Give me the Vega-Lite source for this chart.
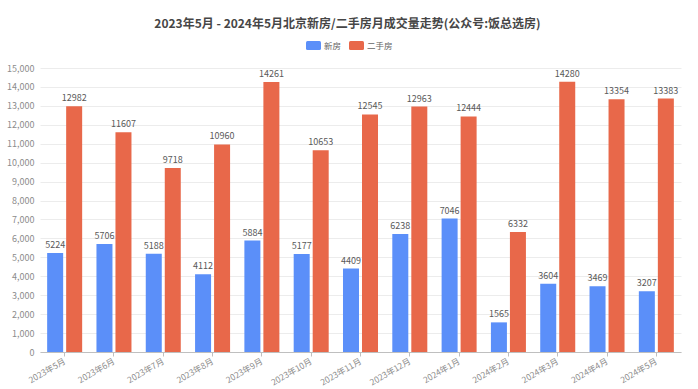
{
  "$schema": "https://vega.github.io/schema/vega-lite/v6.json",
  "width": 641,
  "height": 284,
  "autosize": "none",
  "padding": {"left": 40, "top": 68, "right": 17, "bottom": 37},
  "background": "white",
  "title": {
    "text": "2023年5月 - 2024年5月北京新房/二手房月成交量走势(公众号:饭总选房)",
    "font": "Noto Sans CJK SC",
    "fontSize": 12,
    "fontWeight": "bold",
    "color": "#464646",
    "anchor": "middle",
    "offset": 7,
    "frame": "group",
    "dx": -13
  },
  "config": {
    "view": {"stroke": null},
    "font": "Noto Sans CJK SC"
  },
  "data": {
    "values": [
      {"month": "2023年5月", "type": "新房", "value": 5224},
      {"month": "2023年6月", "type": "新房", "value": 5706},
      {"month": "2023年7月", "type": "新房", "value": 5188},
      {"month": "2023年8月", "type": "新房", "value": 4112},
      {"month": "2023年9月", "type": "新房", "value": 5884},
      {"month": "2023年10月", "type": "新房", "value": 5177},
      {"month": "2023年11月", "type": "新房", "value": 4409},
      {"month": "2023年12月", "type": "新房", "value": 6238},
      {"month": "2024年1月", "type": "新房", "value": 7046},
      {"month": "2024年2月", "type": "新房", "value": 1565},
      {"month": "2024年3月", "type": "新房", "value": 3604},
      {"month": "2024年4月", "type": "新房", "value": 3469},
      {"month": "2024年5月", "type": "新房", "value": 3207},
      {"month": "2023年5月", "type": "二手房", "value": 12982},
      {"month": "2023年6月", "type": "二手房", "value": 11607},
      {"month": "2023年7月", "type": "二手房", "value": 9718},
      {"month": "2023年8月", "type": "二手房", "value": 10960},
      {"month": "2023年9月", "type": "二手房", "value": 14261},
      {"month": "2023年10月", "type": "二手房", "value": 10653},
      {"month": "2023年11月", "type": "二手房", "value": 12545},
      {"month": "2023年12月", "type": "二手房", "value": 12963},
      {"month": "2024年1月", "type": "二手房", "value": 12444},
      {"month": "2024年2月", "type": "二手房", "value": 6332},
      {"month": "2024年3月", "type": "二手房", "value": 14280},
      {"month": "2024年4月", "type": "二手房", "value": 13354},
      {"month": "2024年5月", "type": "二手房", "value": 13383}
    ]
  },
  "encoding": {
    "x": {
      "field": "month",
      "type": "nominal",
      "sort": null,
      "scale": {"paddingInner": 0.29, "paddingOuter": 0.145},
      "axis": {
        "title": null,
        "labelAngle": -30,
        "labelAlign": "right",
        "labelBaseline": "middle",
        "labelFontSize": 8.5,
        "labelColor": "#8c8c8c",
        "labelPadding": 4,
        "domainColor": "#bfbfbf",
        "tickColor": "#bfbfbf",
        "tickSize": 4,
        "grid": false
      }
    },
    "xOffset": {
      "field": "type",
      "type": "nominal",
      "sort": ["新房", "二手房"],
      "scale": {"paddingInner": 0.158}
    },
    "y": {
      "field": "value",
      "type": "quantitative",
      "scale": {"domain": [0, 15000], "nice": false},
      "axis": {
        "title": null,
        "values": [0, 1000, 2000, 3000, 4000, 5000, 6000, 7000, 8000, 9000, 10000, 11000, 12000, 13000, 14000, 15000],
        "format": ",d",
        "labelFontSize": 9,
        "labelColor": "#8c8c8c",
        "labelPadding": 6,
        "domain": false,
        "ticks": false,
        "gridColor": "#ececec",
        "gridWidth": 1
      }
    }
  },
  "layer": [
    {
      "mark": {"type": "bar"},
      "encoding": {
        "color": {
          "field": "type",
          "type": "nominal",
          "scale": {"domain": ["新房", "二手房"], "range": ["#5B8FF9", "#E8684A"]},
          "legend": {
            "title": null,
            "orient": "none",
            "direction": "horizontal",
            "legendX": 266,
            "legendY": -30,
            "symbolType": "M-0.8,-0.6 L0.8,-0.6 Q1,-0.6 1,-0.4 L1,0.4 Q1,0.6 0.8,0.6 L-0.8,0.6 Q-1,0.6 -1,0.4 L-1,-0.4 Q-1,-0.6 -0.8,-0.6 Z",
            "symbolSize": 225,
            "symbolStrokeWidth": 0,
            "labelFontSize": 8.5,
            "labelColor": "#666666",
            "labelOffset": 3,
            "columnPadding": 7
          }
        }
      }
    },
    {
      "mark": {"type": "text", "baseline": "bottom", "dy": -3, "fontSize": 9, "color": "#595959"},
      "encoding": {
        "text": {"field": "value", "type": "quantitative", "format": "d"}
      }
    }
  ]
}
